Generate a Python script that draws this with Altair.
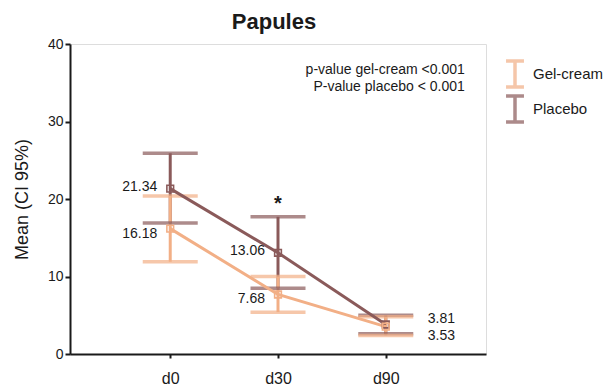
import altair as alt
import pandas as pd

times = ["d0", "d30", "d90"]
groups = ["Gel-cream", "Placebo"]
gel_mean = [16.18, 7.68, 3.53]
gel_lo = [11.9, 5.4, 2.4]
gel_hi = [20.4, 10.0, 4.8]
pla_mean = [21.34, 13.06, 3.81]
pla_lo = [16.9, 8.5, 2.6]
pla_hi = [25.9, 17.7, 5.0]
colors = ["#F2AF86", "#8A5A5A"]
y_ticks = [0, 10, 20, 30, 40]
annotation = ["p-value gel-cream <0.001", "P-value placebo < 0.001"]
star_time = ["d30"]
star_y = [17.7]

FONT = "Liberation Sans"
INK = "#1a1a1a"

rows = []
for g, m, lo, hi in [("Placebo", pla_mean, pla_lo, pla_hi),
                     ("Gel-cream", gel_mean, gel_lo, gel_hi)]:
    for t, a, b, c in zip(times, m, lo, hi):
        rows.append({"group": g, "time": t, "mean": a, "lo": b, "hi": c,
                     "label": f"{a:.2f}"})
df = pd.DataFrame(rows)

x = alt.X("time:N", sort=times,
          scale=alt.Scale(type="point", domain=times, padding=0.93),
          axis=alt.Axis(title=None, labelAngle=0, labelFontSize=16,
                        labelPadding=12, tickSize=4, tickWidth=2,
                        domainWidth=2, domainColor=INK, tickColor=INK,
                        labelColor=INK, labelFont=FONT))
yscale = alt.Scale(domain=[0, 40], nice=False)
yaxis = alt.Axis(values=y_ticks, title="Mean (CI 95%)", grid=False,
                 labelFontSize=14, labelPadding=2, tickSize=5, tickWidth=2,
                 domainWidth=2, domainColor=INK, tickColor=INK,
                 labelColor=INK, labelFont=FONT, titleFont=FONT,
                 titleFontSize=18, titleFontWeight="normal",
                 titleColor=INK, titlePadding=16)

color = alt.Color(
    "group:N",
    scale=alt.Scale(domain=groups, range=colors),
    legend=alt.Legend(
        title=None, orient="none", legendX=430, legendY=15,
        symbolType="M-0.69,-1H0.69M0,-1V1M-0.69,1H0.69",
        symbolSize=676, symbolStrokeWidth=3.5,
        labelFontSize=15, labelFont=FONT, labelColor=INK,
        labelOffset=3, rowPadding=-9, padding=0,
    ),
)

base = alt.Chart(df)

rules = base.mark_rule(strokeWidth=3).encode(
    x=x, y=alt.Y("lo:Q", scale=yscale, axis=yaxis), y2="hi:Q", color=color)
caps_lo = base.mark_tick(size=55, thickness=3.5).encode(
    x=x, y=alt.Y("lo:Q", scale=yscale, axis=yaxis), color=color)
caps_hi = base.mark_tick(size=55, thickness=3.5).encode(
    x=x, y=alt.Y("hi:Q", scale=yscale, axis=yaxis), color=color)
lines = base.mark_line(strokeWidth=3).encode(
    x=x, y=alt.Y("mean:Q", scale=yscale, axis=yaxis), color=color,
    order=alt.Order("time:N"))
points = base.mark_point(shape="square", filled=False, size=45,
                         strokeWidth=1.6, opacity=1).encode(
    x=x, y=alt.Y("mean:Q", scale=yscale, axis=yaxis), color=color)


def labels(cond, align, dx, dy):
    return base.transform_filter(cond).mark_text(
        align=align, baseline="middle", dx=dx, dy=dy, fontSize=14,
        font=FONT, color=INK).encode(
        x=x, y=alt.Y("mean:Q", scale=yscale, axis=yaxis), text="label:N")


lab1 = labels("datum.group == 'Placebo' && datum.time != 'd90'", "right", -13, -2)
lab2 = labels("datum.group == 'Gel-cream' && datum.time != 'd90'", "right", -13, 5)
lab3 = labels("datum.group == 'Placebo' && datum.time == 'd90'", "left", 42, -5)
lab4 = labels("datum.group == 'Gel-cream' && datum.time == 'd90'", "left", 42, 9)

star = alt.Chart(pd.DataFrame({"time": star_time, "y": star_y, "t": ["*"]})).mark_text(
    baseline="alphabetic", dy=-7, fontSize=20, fontWeight="bold", font=FONT,
    color=INK).encode(x=x, y=alt.Y("y:Q", scale=yscale, axis=yaxis), text="t:N")

ann = alt.Chart(pd.DataFrame({"time": ["d90"], "y": [40],
                              "t": ["\n".join(annotation)]})).mark_text(
    align="right", baseline="top", dx=79, dy=19, lineBreak="\n",
    lineHeight=17, fontSize=14, font=FONT, color=INK).encode(
    x=x, y=alt.Y("y:Q", scale=yscale, axis=yaxis), text="t:N")

chart = alt.layer(rules, caps_lo, caps_hi, lines, points,
                  lab1, lab2, lab3, lab4, star, ann).properties(
    width=416, height=310,
    title=alt.TitleParams("Papules", fontSize=22, fontWeight="bold",
                          font=FONT, color=INK, offset=3, dx=-4),
    autosize=alt.AutoSizeParams(type="none"),
    padding={"left": 62, "top": 36, "right": 119, "bottom": 33},
).configure_view(stroke=INK, strokeWidth=1.5).configure(background="white")

chart.save("out.html", embed_options={"renderer": "svg", "actions": False})
